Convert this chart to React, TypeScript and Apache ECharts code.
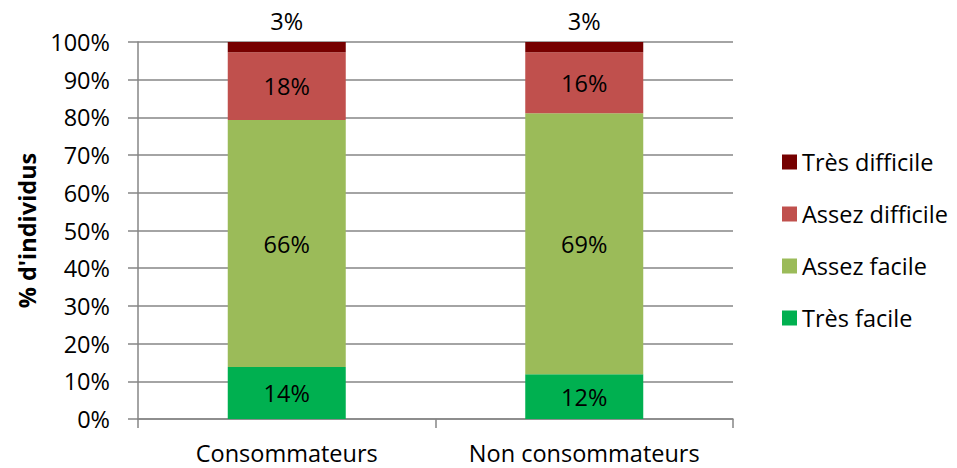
import React, { useEffect, useRef } from "react";
import * as echarts from "echarts";

const categories = ["Consommateurs", "Non consommateurs"];
const tresFacile = [13.8, 11.9];
const assezFacile = [65.5, 69.2];
const assezDifficile = [18.0, 16.2];
const tresDifficile = [2.7, 2.7];
const shownLabels = {
  "Très facile": ["14%", "12%"],
  "Assez facile": ["66%", "69%"],
  "Assez difficile": ["18%", "16%"],
  "Très difficile": ["3%", "3%"],
};
const yTicks = [0, 10, 20, 30, 40, 50, 60, 70, 80, 90, 100];

const FONT = "'Open Sans', Lato, sans-serif";
const FS = 23.5;

export default function App() {
  const ref = useRef<HTMLDivElement>(null);
  useEffect(() => {
    document.body.style.margin = "0";
    if (!ref.current) return;
    const chart = echarts.init(ref.current, undefined, { renderer: "svg" });
    const mk = (name: string, data: number[], color: string, pos: string) => ({
      name,
      type: "bar",
      stack: "total",
      data,
      barWidth: 118,
      itemStyle: { color },
      label: {
        show: true,
        position: pos,
        distance: 9,
        color: "#000",
        fontSize: FS,
        fontFamily: FONT,
        formatter: (p: any) => (shownLabels as any)[name][p.dataIndex],
      },
    });
    chart.setOption({
      animation: false,
      backgroundColor: "#fff",
      grid: { left: 138, right: 224, top: 42, bottom: 49, containLabel: false },
      legend: {
        orient: "vertical",
        left: 777,
        top: 145,
        itemWidth: 15,
        itemHeight: 15,
        itemGap: 28,
        icon: "rect",
        data: ["Très difficile", "Assez difficile", "Assez facile", "Très facile"],
        textStyle: { fontSize: FS, fontFamily: FONT, color: "#000", lineHeight: 23 },
      },
      xAxis: {
        type: "category",
        data: categories,
        axisLine: { lineStyle: { color: "#868686", width: 1.5 } },
        axisTick: { show: true, length: 9, interval: 0, lineStyle: { color: "#868686", width: 1.5 } },
        axisLabel: { fontSize: FS, fontFamily: FONT, color: "#000", margin: 22, interval: 0, hideOverlap: false },
      },
      yAxis: {
        type: "value",
        min: 0,
        max: 100,
        interval: 10,
        name: "% d'individus",
        nameLocation: "middle",
        nameGap: 98,
        nameTextStyle: { fontSize: FS, fontWeight: "bold", fontFamily: FONT, color: "#000" },
        axisLine: { show: true, lineStyle: { color: "#868686", width: 1.5 } },
        axisTick: { show: true, length: 10, lineStyle: { color: "#868686", width: 1.5 } },
        splitLine: { lineStyle: { color: "#868686", width: 1.5 } },
        axisLabel: {
          fontSize: FS,
          fontFamily: FONT,
          color: "#000",
          margin: 28,
          formatter: (v: number) => (yTicks.includes(v) ? v + "%" : ""),
        },
      },
      series: [
        mk("Très facile", tresFacile, "#00B050", "inside"),
        mk("Assez facile", assezFacile, "#9BBB59", "inside"),
        mk("Assez difficile", assezDifficile, "#C0504D", "inside"),
        mk("Très difficile", tresDifficile, "#760000", "top"),
      ],
    });
    return () => chart.dispose();
  }, []);
  return <div ref={ref} style={{ width: 957, height: 468 }} />;
}
